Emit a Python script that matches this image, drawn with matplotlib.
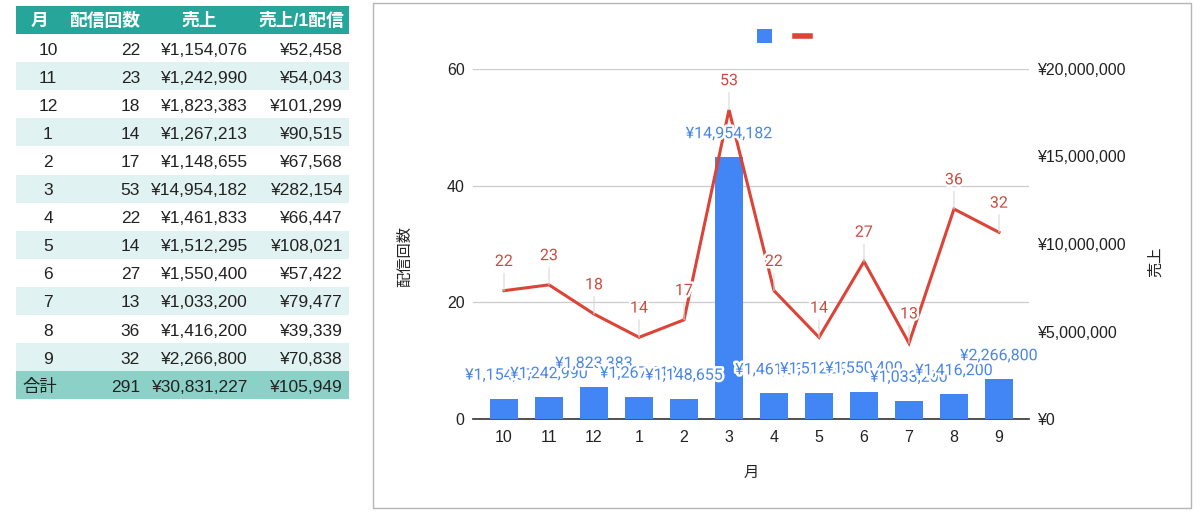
import matplotlib
matplotlib.use('Agg')
import matplotlib.pyplot as plt
import matplotlib.patheffects as pe
from matplotlib.patches import Rectangle, Patch
from matplotlib.lines import Line2D
from matplotlib.ticker import FuncFormatter

plt.rcParams['font.family'] = ['Liberation Sans', 'Noto Sans CJK JP', 'DejaVu Sans']

# data from the sheet
months = ['10', '11', '12', '1', '2', '3', '4', '5', '6', '7', '8', '9']
counts = [22, 23, 18, 14, 17, 53, 22, 14, 27, 13, 36, 32]
sales = [1154076, 1242990, 1823383, 1267213, 1148655, 14954182,
         1461833, 1512295, 1550400, 1033200, 1416200, 2266800]
per_stream = [52458, 54043, 101299, 90515, 67568, 282154,
              66447, 108021, 57422, 79477, 39339, 70838]
total_label = '合計'
total_count = 291
total_sales = 30831227
total_per = 105949
headers = ['月', '配信回数', '売上', '売上/1配信']

BLUE = '#4285f4'
RED = '#db4437'
yen = lambda v: '¥{:,.0f}'.format(v)

fig = plt.figure(figsize=(12, 5.17), dpi=100)

# background layer in pixel coords: table + chart frame
bg = fig.add_axes([0, 0, 1, 1])
bg.set_xlim(0, 1200)
bg.set_ylim(517, 0)
bg.axis('off')

bg.add_patch(Rectangle((373, 3), 818, 505, facecolor='white', edgecolor='#b5b5b5', lw=1))

row_h = 28.1
tx0, tx1 = 16, 349
bg.add_patch(Rectangle((tx0, 6), tx1 - tx0, 28, facecolor='#26a69a', lw=0))
hy = 21
hfs = 12.8
bg.text(40, hy, headers[0], ha='center', va='center', color='white', fontsize=hfs, fontweight='bold')
bg.text(140, hy, headers[1], ha='right', va='center', color='white', fontsize=hfs, fontweight='bold')
bg.text(199, hy, headers[2], ha='center', va='center', color='white', fontsize=hfs, fontweight='bold')
bg.text(344, hy, headers[3], ha='right', va='center', color='white', fontsize=hfs, fontweight='bold')

for i, m in enumerate(months):
    top = 34 + row_h * i
    if i % 2 == 1:
        bg.add_patch(Rectangle((tx0, top), tx1 - tx0, row_h, facecolor='#e0f2f1', lw=0))
    yc = top + row_h / 2 + 2
    bg.text(48, yc, m, ha='center', va='center', fontsize=12.5, color='#222222')
    bg.text(140, yc, str(counts[i]), ha='right', va='center', fontsize=12.5, color='#222222')
    bg.text(248, yc, yen(sales[i]), ha='right', va='center', fontsize=12.5, color='#222222')
    bg.text(343, yc, yen(per_stream[i]), ha='right', va='center', fontsize=12.5, color='#222222')

top = 34 + row_h * len(months)
bg.add_patch(Rectangle((tx0, top), tx1 - tx0, row_h, facecolor='#8cd1c7', lw=0))
yc = top + row_h / 2 + 2
bg.text(22, yc, total_label, ha='left', va='center', fontsize=12.5, color='#222222')
bg.text(140, yc, str(total_count), ha='right', va='center', fontsize=12.5, color='#222222')
bg.text(248, yc, yen(total_sales), ha='right', va='center', fontsize=12.5, color='#222222')
bg.text(343, yc, yen(total_per), ha='right', va='center', fontsize=12.5, color='#222222')

# chart
rect = [473 / 1200, 98 / 517, 556 / 1200, 350 / 517]
x = list(range(len(months)))

ax = fig.add_axes(rect)
ax.set_facecolor('none')
ax.set_xlim(-0.689, 11.667)
ax.set_ylim(0, 60)
ax.set_yticks([0, 20, 40, 60])
ax.grid(axis='y', color='#cccccc', lw=0.9)
ax.set_axisbelow(True)
ax.set_xticks(x)
ax.set_xticklabels(months)
for s in ['top', 'right', 'left']:
    ax.spines[s].set_visible(False)
ax.spines['bottom'].set_color('#333333')
ax.spines['bottom'].set_linewidth(1.2)
ax.tick_params(axis='both', length=0, labelsize=11.5, colors='#222222')
ax.tick_params(axis='y', pad=6)
ax.tick_params(axis='x', pad=8)
ax.set_ylabel('配信回数', fontsize=11, color='#222222')
ax.yaxis.set_label_coords(-0.110, 0.463)
ax.set_xlabel('月', fontsize=11, color='#222222')
ax.xaxis.set_label_coords(0.5, -0.134)

ax2 = ax.twinx()
ax2.set_ylim(0, 20000000)
ax2.set_yticks([0, 5000000, 10000000, 15000000, 20000000])
ax2.yaxis.set_major_formatter(FuncFormatter(lambda v, p: yen(v)))
for s in ax2.spines.values():
    s.set_visible(False)
ax2.tick_params(axis='y', length=0, labelsize=11.5, colors='#222222', pad=6)
ax2.bar(x, sales, width=0.64, color=BLUE, zorder=2)
ax2.set_ylabel('売上', fontsize=11, color='#222222')
ax2.yaxis.set_label_coords(1.216, 0.449)

# top layer: line and all data labels
ax3 = fig.add_axes(rect, sharex=ax, sharey=ax)
ax3.axis('off')
ax3.patch.set_visible(False)
ax3.plot(x, counts, color=RED, lw=2.2, solid_joinstyle='miter')

halo = [pe.withStroke(linewidth=3.5, foreground='white')]
for i, c in enumerate(counts):
    ax3.annotate(str(c), xy=(i, c), xytext=(0, 21), textcoords='offset points',
                 ha='center', va='center', fontsize=11.5, color='#cc4b3f',
                 family=['Roboto', 'DejaVu Sans'], path_effects=halo,
                 arrowprops=dict(arrowstyle='-', color='#d8d8d8', lw=0.8,
                                 relpos=(0.5, 0), shrinkA=1, shrinkB=0))
for i, s in enumerate(sales):
    ax3.annotate(yen(s), xy=(i, s), xycoords=ax2.transData, xytext=(0, 17),
                 textcoords='offset points', ha='center', va='center',
                 fontsize=11.5, color='#4a86e8', family=['Roboto', 'DejaVu Sans'],
                 path_effects=halo)

handles = [Patch(facecolor=BLUE, edgecolor='none'), Line2D([], [], color=RED, lw=4)]
fig.legend(handles, ['', ''], loc='center', bbox_to_anchor=(783.5 / 1200, 1 - 37 / 517),
           ncol=2, frameon=False, fontsize=11, handlelength=1.0, handleheight=1.0,
           handletextpad=0, columnspacing=1.5)

fig.savefig('out.png', dpi=100)
